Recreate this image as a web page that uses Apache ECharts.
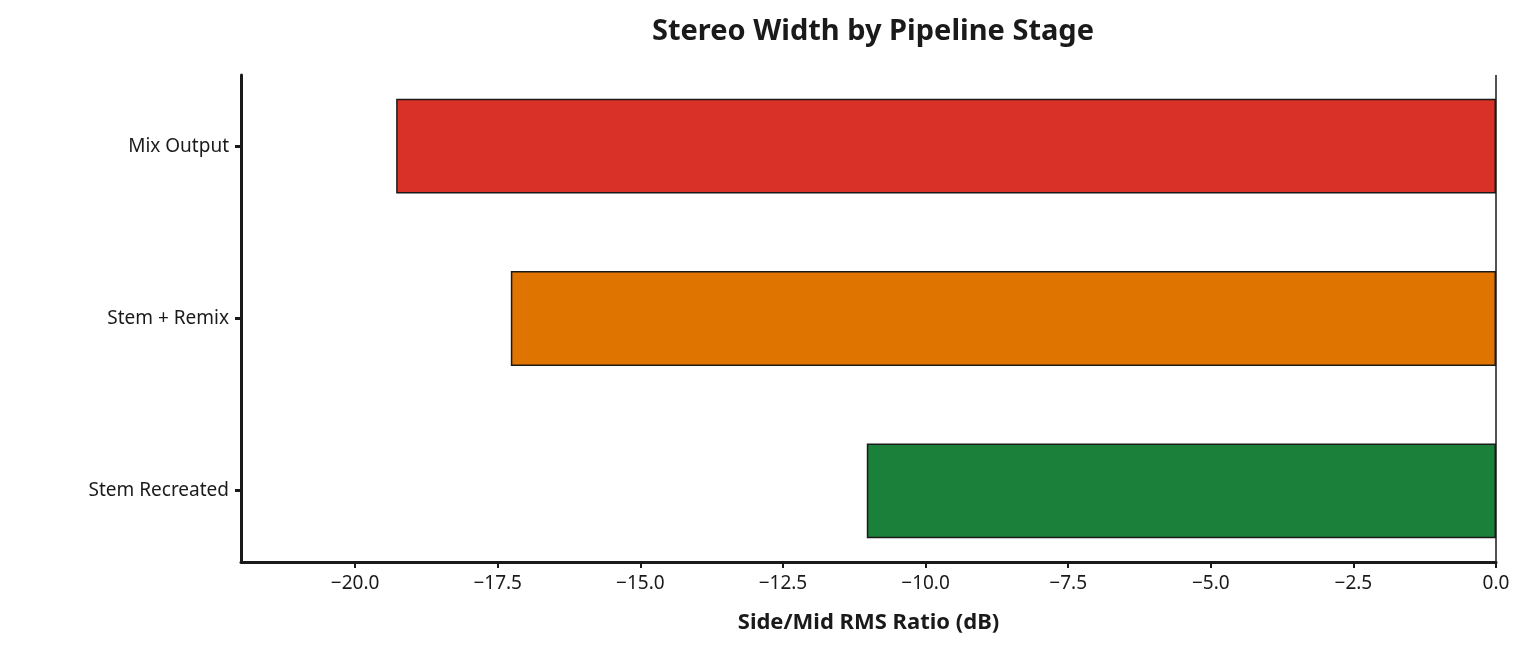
<!DOCTYPE html>
<html>
<head>
<meta charset="utf-8">
<script src="https://cdn.jsdelivr.net/npm/echarts@6/dist/echarts.min.js"></script>
<style>html,body{margin:0;padding:0;background:#fff}#chart{width:1534px;height:658px}</style>
</head>
<body>
<div id="chart"></div>
<script>
let stages = ['Stem Recreated', 'Stem + Remix', 'Mix Output'];
let widthDb = [-11.03, -17.27, -19.28];
let barColors = ['#1a803a', '#e07400', '#d93127'];
let tickValues = [-20, -17.5, -15, -12.5, -10, -7.5, -5, -2.5, 0];

let font = '"Noto Sans", sans-serif';
let ink = '#1a1a1a';
let chart = echarts.init(document.getElementById('chart'));

chart.setOption({
    title: {
        text: 'Stereo Width by Pipeline Stage',
        left: 868, top: 12, textAlign: 'center',
        textStyle: {fontFamily: font, fontSize: 29, fontWeight: 'bold', color: ink}
    },
    // grid 0: bars (category bands padded like matplotlib), grid 1: visible axes
    grid: [
        {left: 241, right: 38, top: 60, bottom: 81},
        {left: 241, right: 38, top: 75, bottom: 96}
    ],
    xAxis: [{
        type: 'value', min: -22, max: 0, gridIndex: 0, show: false
    }, {
        type: 'value', min: -22, max: 0, gridIndex: 1,
        name: 'Side/Mid RMS Ratio (dB)', nameLocation: 'middle', nameGap: 50,
        nameTextStyle: {fontFamily: font, fontSize: 22, fontWeight: 'bold', color: ink},
        splitLine: {show: false},
        axisLine: {show: true, onZero: false, lineStyle: {color: ink, width: 3}},
        axisTick: {show: true, length: 6, lineStyle: {color: ink, width: 2}, customValues: tickValues},
        axisLabel: {
            fontFamily: font, fontSize: 19, color: ink, margin: 12,
            customValues: tickValues,
            formatter: v => (v < 0 ? '\u2212' : '') + Math.abs(v).toFixed(1)
        }
    }],
    yAxis: [{
        type: 'category', data: stages, gridIndex: 0, show: false
    }, {
        type: 'value', gridIndex: 1, min: -0.414, max: 2.414,
        splitLine: {show: false},
        axisLine: {show: true, onZero: false, lineStyle: {color: ink, width: 3}},
        axisTick: {show: true, length: 6, lineStyle: {color: ink, width: 3}, customValues: [0, 1, 2]},
        axisLabel: {fontFamily: font, fontSize: 19, color: ink, margin: 12,
            customValues: [0, 1, 2], formatter: v => stages[v]}
    }],
    series: [{
        type: 'bar',
        xAxisIndex: 0, yAxisIndex: 0,
        barWidth: '55%',
        data: widthDb.map((v, i) => ({value: v, itemStyle: {color: barColors[i]}})),
        itemStyle: {borderColor: ink, borderWidth: 1.5}
    }, {
        type: 'line', xAxisIndex: 1, yAxisIndex: 1, data: [],
        markLine: {
            silent: true, symbol: 'none', label: {show: false},
            lineStyle: {color: ink, width: 1.5, type: 'solid'},
            data: [{xAxis: 0}]
        }
    }]
});
</script>
</body>
</html>
